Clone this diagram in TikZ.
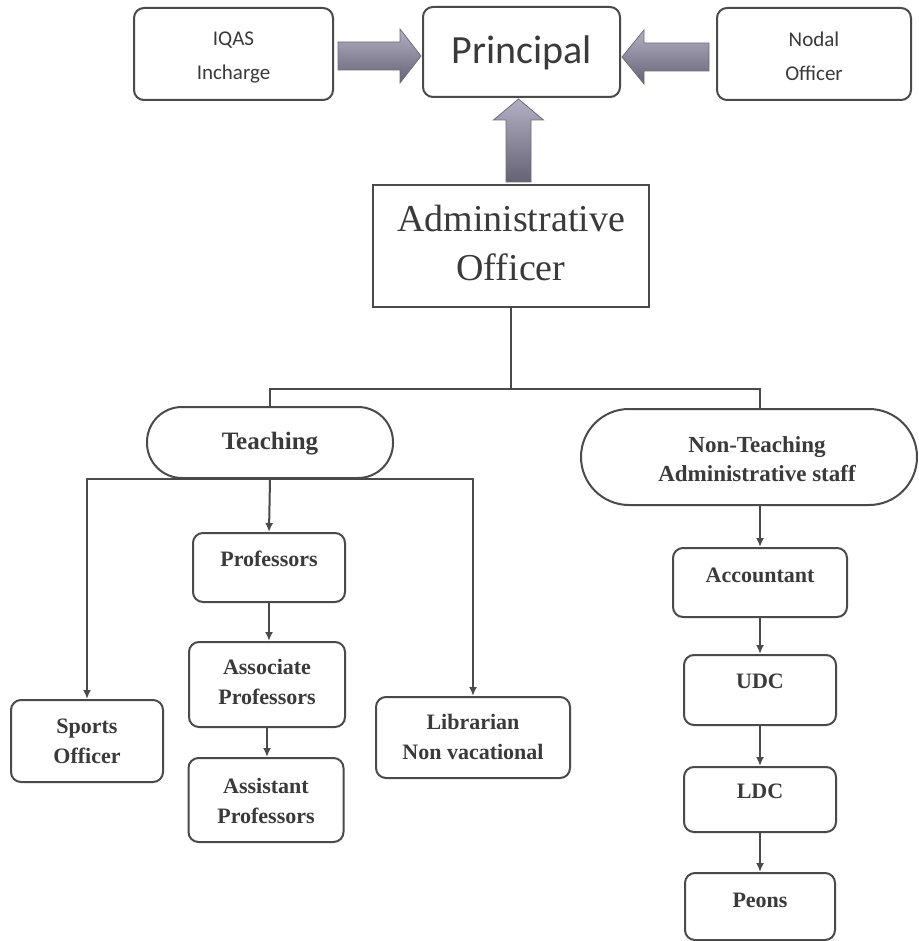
\documentclass[tikz,border=0pt]{standalone}
\usepackage{fontspec}
\setmainfont{Liberation Serif}
\newfontfamily\calfont{Carlito}
\usetikzlibrary{arrows.meta,calc}
\definecolor{ink}{RGB}{74,74,74}
\definecolor{txt}{RGB}{58,58,58}
\definecolor{arL}{RGB}{178,176,194}
\definecolor{arD}{RGB}{100,98,116}
\definecolor{arE}{RGB}{110,110,120}
\begin{document}
\begin{tikzpicture}[x=1pt,y=-1pt,
  rbox/.style={draw=ink, line width=2pt, rounded corners=10pt, fill=white, inner sep=0pt},
  sbox/.style={draw=ink, line width=2pt, fill=white, inner sep=0pt},
  stad/.style={draw=ink, line width=2pt, fill=white, inner sep=0pt},
  toplbl/.style={text=txt, align=center, inner sep=0pt, font=\calfont\fontsize{21}{34}\selectfont},
  lbl/.style={text=txt, align=center, inner sep=0pt, font=\bfseries\fontsize{22}{30}\selectfont},
  conn/.style={draw=ink, line width=2pt},
  arr/.style={conn, -{Latex[length=9pt,width=8pt]}},
  blk/.style={draw=arE, line width=0.8pt, top color=arL, bottom color=arD}]
\useasboundingbox (0,0) rectangle (918,941);
\fill[white] (0,0) rectangle (918,941);

% top row
\node[rbox, minimum width=199pt, minimum height=92pt] (iqas) at (233.5,54) {};
\node[toplbl] (iqasT) at (233.5,57) {IQAS\\Incharge};
\node[rbox, minimum width=197pt, minimum height=90pt] (prin) at (521.5,52) {};
\node[text=txt, inner sep=0pt, font=\calfont\fontsize{40}{44}\selectfont] (prinT) at (521.5,52.5) {Principal};
\node[rbox, minimum width=194pt, minimum height=92pt] (nodal) at (814,54) {};
\node[toplbl] (nodalT) at (814,56) {Nodal\\Officer};

% administrative officer
\node[sbox, minimum width=276pt, minimum height=122pt] (admin) at (511,246) {};
\node[text=txt, align=center, inner sep=0pt, font=\fontsize{38}{49}\selectfont] (adminT) at (511,243) {Administrative\\Officer};

% block arrows
\coordinate (lT) at ($(prin.west)+(-1,4)$);
\coordinate (lB) at ($(iqas.east |- lT)+(4,0)$);
\path[blk] ($(lB)+(0,-14)$) -- ($(lT)+(-21,-14)$) -- ($(lT)+(-21,-27)$) -- (lT)
  -- ($(lT)+(-21,27)$) -- ($(lT)+(-21,14)$) -- ($(lB)+(0,14)$) -- cycle;
\coordinate (rT) at ($(prin.east)+(1,5)$);
\coordinate (rB) at ($(nodal.west |- rT)+(-7,0)$);
\path[blk] ($(rB)+(0,-14)$) -- ($(rT)+(22,-14)$) -- ($(rT)+(22,-27)$) -- (rT)
  -- ($(rT)+(22,27)$) -- ($(rT)+(22,14)$) -- ($(rB)+(0,14)$) -- cycle;
\coordinate (uT) at ($(prin.south)+(-3,1)$);
\coordinate (uB) at (uT |- admin.north);
\path[blk] ($(uB)+(-12.5,-2)$) -- ($(uT)+(-12.5,21)$) -- ($(uT)+(-25,21)$) -- (uT)
  -- ($(uT)+(25,21)$) -- ($(uT)+(12.5,21)$) -- ($(uB)+(12.5,-2)$) -- cycle;

% groups
\node[stad, rounded corners=35pt, minimum width=246pt, minimum height=71pt] (teach) at (270,442.5) {};
\node[lbl, font=\bfseries\fontsize{25}{30}\selectfont] (teachT) at (270,444) {Teaching};
\node[stad, rounded corners=48pt, minimum width=336pt, minimum height=96pt] (nont) at (749,457) {};
\node[lbl, font=\bfseries\fontsize{23}{29}\selectfont] (nontT) at (757,459) {Non-Teaching\\Administrative staff};

% teaching children
\node[rbox, minimum width=152pt, minimum height=69pt] (prof) at (269,567.5) {};
\node[lbl] (profT) at (269,559) {Professors};
\node[rbox, minimum width=156pt, minimum height=85pt] (assoc) at (267,684.5) {};
\node[lbl] (assocT) at (267,682) {Associate\\Professors};
\node[rbox, minimum width=155pt, minimum height=84pt] (assist) at (266,800) {};
\node[lbl] (assistT) at (266,801) {Assistant\\Professors};
\node[rbox, minimum width=152pt, minimum height=82pt] (sports) at (87,741) {};
\node[lbl] (sportsT) at (87,741) {Sports\\Officer};
\node[rbox, minimum width=194pt, minimum height=81pt] (lib) at (473,737.5) {};
\node[lbl] (libT) at (473,737) {Librarian\\Non vacational};

% non-teaching children
\node[rbox, minimum width=174pt, minimum height=69pt] (acc) at (760,582.5) {};
\node[lbl] (accT) at (760,575) {Accountant};
\node[rbox, minimum width=152pt, minimum height=70pt] (udc) at (760,690) {};
\node[lbl] (udcT) at (760,681) {UDC};
\node[rbox, minimum width=152pt, minimum height=65pt] (ldc) at (760,799.5) {};
\node[lbl] (ldcT) at (760,791) {LDC};
\node[rbox, minimum width=150pt, minimum height=67pt] (peons) at (760,906.5) {};
\node[lbl] (peonsT) at (760,900) {Peons};

% connectors
\coordinate (bus) at ($(admin.south)+(0,81)$);
\draw[conn] (admin.south) -- (bus);
\draw[conn] (bus) -| (teach.north);
\draw[conn] (bus) -| (acc.north |- nont.north);
\draw[arr] (teach.south) -- (prof.north);
\draw[arr] (teach.south) -| (sports.north);
\draw[arr] (teach.south) -| (lib.north);
\draw[arr] (prof.south) -- (prof.south |- assoc.north);
\draw[arr] (assoc.south) -- (assoc.south |- assist.north);
\draw[arr] (acc.north |- nont.south) -- (acc.north);
\draw[arr] (acc.south) -- (udc.north);
\draw[arr] (udc.south) -- (ldc.north);
\draw[arr] (ldc.south) -- (peons.north);
\end{tikzpicture}
\end{document}
